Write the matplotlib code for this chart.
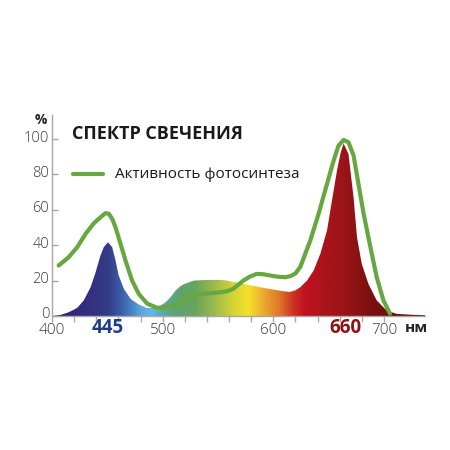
import matplotlib
matplotlib.use('Agg')
import matplotlib.pyplot as plt
import matplotlib.transforms as mtransforms
import numpy as np
from matplotlib.colors import LinearSegmentedColormap
from matplotlib.patches import Polygon

plt.rcParams['font.family'] = ['Open Sans', 'DejaVu Sans']

# спектр свечения лампы (нм, %)
spec_nm = [400, 407.7, 413.8, 418, 422.8, 428.7, 434.9, 439.3, 443.8, 446.8, 450.6,
           454.4, 457.4, 460.3, 464.9, 471, 478.4, 486, 495, 502.5, 507, 511.6,
           516, 520, 528, 540, 552, 558, 573, 591, 609, 615, 620, 624.5, 630.5,
           636.5, 642.6, 648.6, 653, 657.7, 661, 663.6, 668, 672.6, 675.7, 680,
           686, 693.5, 702.5, 711.5, 725, 739]
spec_val = [0, 0.6, 1.8, 3, 4.6, 8.8, 16.3, 24.5, 34.2, 38.9, 41.7,
            38.9, 31.4, 22.9, 15.4, 9.7, 6.5, 4.5, 4.5, 7.7, 10.5, 14.3,
            16.8, 18.2, 20, 20.4, 20.4, 20, 18.1, 15.9, 14, 13.6, 14.5, 16.3, 20,
            25.7, 35.2, 48.3, 65, 82.5, 92.5, 97.5, 91.6, 67, 44.5, 29.5,
            18.2, 8.8, 3.1, 1.2, 0.7, 0.4]

# активность фотосинтеза
ph_nm = [406, 415, 422.8, 430.3, 437.8, 443.8, 448.3, 451.3, 454.4, 457.4, 461.9,
         466.4, 472.4, 478.4, 486, 495, 504, 510, 514.5, 519, 525, 531, 543,
         552, 558, 564, 568, 573, 579, 585, 591, 597, 604, 610.8, 615.4, 620,
         624.5, 633.5, 641, 648.6, 654.6, 659, 663.6, 668, 672.6, 677, 681.7,
         687.8, 693.5, 699.6, 705.6]
ph_val = [28.5, 33.2, 38.9, 46.4, 52.4, 55.8, 58.1, 57.8, 54.9, 50.2, 40.8,
          31.4, 20, 12.5, 7, 4.6, 5, 5.5, 6.9, 9.7, 11.3, 12.1, 12.9,
          13.4, 14, 15.4, 17.5, 20, 22.3, 23.8, 23.6, 22.9, 22.2, 21.9, 22.5, 24,
          27.8, 42.7, 57.8, 74.7, 87.9, 96.3, 99.5, 98.2, 90.7, 74.7, 57.8,
          39, 22, 8.8, 1.3]

# цвета спектра
grad_nm = [400, 430, 450, 465, 480, 490, 500, 515, 530, 550, 565, 578, 592, 605,
           618, 628, 650, 665, 690, 740]
grad_col = ['#2a1f6e', '#332f7f', '#343a86', '#3f66b0', '#5aa8de', '#62b7e8',
            '#5bab9a', '#5ea270', '#6aa55a', '#a8c048', '#d8d535', '#f5e02a',
            '#eaa830', '#e07a2a', '#cc3322', '#c2121e', '#a8141a', '#9a1418',
            '#7a1010', '#5a0a0a']

fig = plt.figure(figsize=(4.5, 4.5), dpi=100)
ax = fig.add_axes([0.1156, 0.2978, 0.8284, 0.4466])
ax.set_xlim(400, 737)
ax.set_ylim(0, 113.6)

pos = [(n - grad_nm[0]) / (grad_nm[-1] - grad_nm[0]) for n in grad_nm]
cmap = LinearSegmentedColormap.from_list('spec', list(zip(pos, grad_col)))
grad = np.linspace(0, 1, 600).reshape(1, -1)
img = ax.imshow(grad, cmap=cmap, aspect='auto', extent=[400, 740, 0, 100],
                origin='lower', zorder=1, interpolation='bilinear')
poly = Polygon(list(zip(spec_nm, spec_val)) + [(spec_nm[-1], 0), (spec_nm[0], 0)],
               closed=True, facecolor='none', edgecolor='none')
ax.add_patch(poly)
img.set_clip_path(poly)

ax.plot(ph_nm, ph_val, color='#66a83f', lw=3.0, solid_capstyle='round',
        solid_joinstyle='round', zorder=3)

for s in ['top', 'right']:
    ax.spines[s].set_visible(False)
for s in ['left', 'bottom']:
    ax.spines[s].set_color('#a8a8a8')
    ax.spines[s].set_linewidth(1.0)
    ax.spines[s].set_zorder(2)

xt = list(range(400, 701, 20))
ax.set_xticks(xt)
ax.set_xticklabels([str(t) if t in (400, 500, 600, 700) else '' for t in xt])
ax.set_yticks([0, 20, 40, 60, 80, 100])
ax.tick_params(axis='x', direction='out', length=4, width=1, color='#a8a8a8',
               pad=1.0, labelsize=11, labelcolor='#3a3a3a')
ax.tick_params(axis='y', direction='in', length=4, width=1, color='#a8a8a8',
               pad=2.0, labelsize=10.5, labelcolor='#3a3a3a')
# подписи оси Y чуть выше засечек
up = mtransforms.ScaledTranslation(0, 3 / 100, fig.dpi_scale_trans)
for lab in ax.get_yticklabels():
    lab.set_transform(lab.get_transform() + up)
for lab in ax.get_xticklabels() + ax.get_yticklabels():
    lab.set_fontweight('light')

ax.text(450, -7, '445', ha='center', va='center', fontsize=13.5,
        fontweight='bold', color='#1f3c8c', clip_on=False)
ax.text(665, -7, '660', ha='center', va='center', fontsize=13.5,
        fontweight='bold', color='#8c1414', clip_on=False)
ax.text(729.5, -7, 'нм', ha='center', va='center', fontsize=11,
        fontweight='bold', color='#222222', clip_on=False)
ax.text(389.8, 110.7, '%', ha='center', va='center', fontsize=10,
        fontweight='bold', color='#222222', clip_on=False)

fig.text(72 / 450, 1 - 134 / 450, 'СПЕКТР СВЕЧЕНИЯ', ha='left', va='center',
         fontsize=13, fontweight='bold', color='#1a1a1a')
fig.lines.append(plt.Line2D([73 / 450, 103 / 450], [1 - 174 / 450, 1 - 174 / 450],
                            transform=fig.transFigure, color='#66a83f', lw=3.0,
                            solid_capstyle='round'))
fig.text(115 / 450, 1 - 174 / 450, 'Активность фотосинтеза', ha='left',
         va='center', fontsize=11, color='#1a1a1a')

fig.savefig('out.png', dpi=100)
